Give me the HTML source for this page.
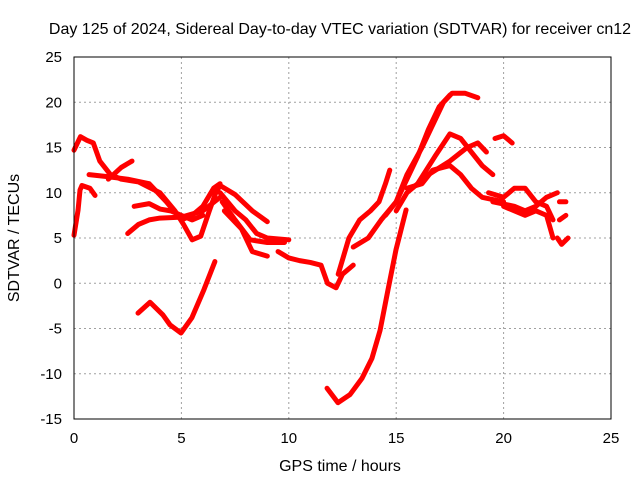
<!DOCTYPE html>
<html><head><meta charset="utf-8"><style>
body{margin:0;background:#fff;}
svg text{font-family:"Liberation Sans",sans-serif;font-size:16px;fill:#000;}
svg text.tick{font-size:15px;}
</style></head><body>
<svg id="chart" width="640" height="480">
<text x="340" y="34" text-anchor="middle">Day 125 of 2024, Sidereal Day-to-day VTEC variation (SDTVAR) for receiver cn12</text>
<text x="340" y="471" text-anchor="middle">GPS time / hours</text>
<text transform="translate(19,238) rotate(-90)" text-anchor="middle">SDTVAR / TECUs</text>
<g id="grid"></g><g id="marks"></g>
<rect x="74" y="57" width="537" height="362" fill="none" stroke="#000" stroke-width="1"/>
</svg>
<script>
const xTicks=[0,5,10,15,20,25];
const yTicks=[-15,-10,-5,0,5,10,15,20,25];
const tLow=[[2.98,-3.3],[3.54,-2.1],[4.14,-3.5],[4.47,-4.6],[4.98,-5.5],[5.49,-3.8],[6.05,-0.7],[6.56,2.4]];
const tDip=[[11.78,-11.6],[12.29,-13.2],[12.85,-12.3],[13.41,-10.5],[13.87,-8.3],[14.25,-5.2],[14.62,-0.7],[14.99,3.7],[15.46,8.1]];
const tStart=[[0,5.3],[0.19,8.1],[0.28,10.3],[0.37,10.8],[0.74,10.5],[0.98,9.7]];
const tA=[[0,14.7],[0.3,16.2],[0.6,15.8],[0.9,15.5],[1.2,13.5],[1.7,12],[2.2,11.5],[3,11.2],[4,10],[4.7,8],[5.1,6.5],[5.5,4.8],[5.9,5.2],[6.3,8],[6.6,10],[6.8,10.8]];
const tB=[[0.7,12],[1.5,11.8],[2.5,11.5],[3.5,11],[4.3,9],[5,7],[5.5,7.5],[6,8.5],[6.5,10.5],[6.8,11]];
const tC=[[1.6,11.5],[2.2,12.8],[2.7,13.5]];
const tD=[[2.8,8.5],[3.5,8.8],[4,8.2],[4.5,8],[5,7.5],[5.5,7],[6,7.5]];
const tE=[[2.5,5.5],[3,6.5],[3.5,7],[4,7.2],[5,7.3],[6,8],[6.8,9.5]];
const tF=[[6.8,10.8],[7.5,9.8],[8.3,8],[9,6.8]];
const tG=[[6.8,10],[7.5,8],[8,7],[8.5,5.5],[9,5],[10,4.8]];
const tH=[[6.9,9],[7.5,7],[8.2,4.8],[9,4.5],[9.8,4.5]];
const tI=[[7,8],[7.8,6],[8.3,3.5],[9,3]];
const tJ=[[9.5,3.5],[10,2.8],[10.5,2.5],[11,2.3],[11.5,2],[11.8,0],[12.2,-0.5],[12.5,1],[13,2]];
const tK=[[12.3,1],[12.8,5],[13.3,7],[13.8,8],[14.2,9],[14.5,11],[14.7,12.5]];
const tL=[[13,4],[13.7,5],[14.3,7],[15,9],[15.5,11.5],[16,14],[16.5,17],[17,19.5],[17.5,20.8]];
const tM=[[14.5,7.5],[15,9],[15.5,12],[16.2,15],[16.7,17.5],[17.2,20],[17.6,21],[18.2,21],[18.8,20.5]];
const tN=[[15,8],[15.5,10],[16,11],[16.8,14],[17.5,16.5],[18,16],[18.5,14.5],[19,13],[19.5,12]];
const tO=[[15.5,10.5],[16.2,11],[16.7,12.5],[17.5,13],[18,12],[18.5,10.5],[19,9.5],[20,9]];
const tP=[[16.5,12],[17.5,13.5],[18.3,15],[18.8,15.5],[19.2,14.5]];
const tQ=[[19.6,16],[20,16.3],[20.4,15.5]];
const tR=[[19.3,10],[20,9.5],[20.5,10.5],[21,10.5],[21.5,9],[22,8.5],[22.3,7]];
const tS=[[19.5,9],[20.5,8.5],[21,8],[21.5,8.5],[22,9.5],[22.5,10]];
const tT=[[20,8.5],[21,7.5],[21.5,8],[22,7.5],[22.3,5]];
const tU=[[22.6,9],[22.9,9]];
const tV=[[22.6,7],[22.9,7.5]];
const tW=[[22.5,5],[22.7,4.3],[23,5]];
const tracks=[tLow,tDip,tStart,tA,tB,tC,tD,tE,tF,tG,tH,tI,tJ,tK,tL,tM,tN,tO,tP,tQ,tR,tS,tT,tU,tV,tW];
const X0=74,X1=611,Y0=419,Y1=57;
function xs(v){return X0+(v-0)/(25-0)*(X1-X0);}
function ys(v){return Y0-(v+15)/(40)*(Y0-Y1);}
const NS="http://www.w3.org/2000/svg";
const grid=document.getElementById('grid'),marks=document.getElementById('marks'),svg=document.getElementById('chart');
xTicks.forEach(t=>{
 const x=xs(t);
 if(t>0&&t<25){const l=document.createElementNS(NS,'line');
 l.setAttribute('x1',x);l.setAttribute('x2',x);l.setAttribute('y1',Y1);l.setAttribute('y2',Y0);
 l.setAttribute('stroke','#a0a0a0');l.setAttribute('stroke-dasharray','2,3');
 
 
 grid.appendChild(l);}
 const tx=document.createElementNS(NS,'text');tx.setAttribute('x',x);tx.setAttribute('y',443);tx.setAttribute('text-anchor','middle');tx.setAttribute('class','tick');tx.textContent=t;
 
 
 svg.appendChild(tx);
});
yTicks.forEach(t=>{
 const y=ys(t);
 if(t>-15&&t<25){const l=document.createElementNS(NS,'line');
 l.setAttribute('x1',X0);l.setAttribute('x2',X1);l.setAttribute('y1',y);l.setAttribute('y2',y);
 l.setAttribute('stroke','#a0a0a0');l.setAttribute('stroke-dasharray','2,3');
 
 
 grid.appendChild(l);}
 const tx=document.createElementNS(NS,'text');tx.setAttribute('x',62);tx.setAttribute('y',y+5);tx.setAttribute('text-anchor','end');tx.setAttribute('class','tick');tx.textContent=t;
 
 
 svg.appendChild(tx);
});
tracks.forEach(tr=>{
 const p=document.createElementNS(NS,'polyline');
 p.setAttribute('points',tr.map(d=>xs(d[0])+','+ys(d[1])).join(' '));
 p.setAttribute('fill','none');p.setAttribute('stroke','#ff0000');p.setAttribute('stroke-width','5');
 p.setAttribute('stroke-linejoin','round');p.setAttribute('stroke-linecap','round');
 
 
 marks.appendChild(p);
});
</script>
</body></html>
